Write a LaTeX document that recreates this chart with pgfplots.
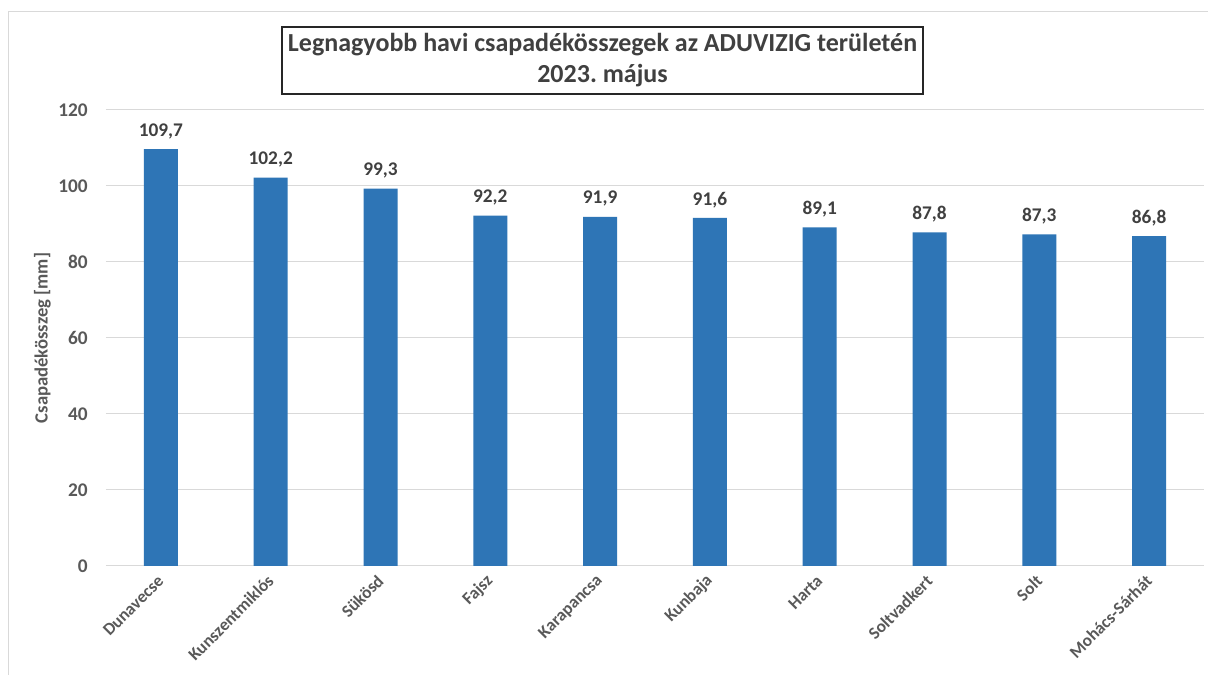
\documentclass[border=0pt]{standalone}
\usepackage{fontspec}
\setmainfont{Carlito}
\usepackage{pgfplots}
\pgfplotsset{compat=1.18}
\definecolor{barblue}{HTML}{2E75B6}
\definecolor{txt}{HTML}{595959}
\definecolor{ttl}{HTML}{404040}
\definecolor{grd}{HTML}{D9D9D9}
\frenchspacing
\begin{document}
\begin{tikzpicture}
  \useasboundingbox (0,0) rectangle (906pt,506.25pt);
  \fill[white] (0,0) rectangle (906pt,506.25pt);
  \draw[grd, line width=0.75pt] (6pt,-5pt) rectangle (912pt,497.25pt);
  \begin{axis}[
      at={(79.5pt,81.75pt)}, anchor=south west,
      scale only axis, width=823.5pt, height=342pt,
      ybar, bar width=25.5pt,
      ymin=0, ymax=120, ytick={0,20,...,120},
      xmin=-0.5, xmax=9.5, xtick=data,
      xticklabels={Dunavecse,Kunszentmiklós,Sükösd,Fajsz,Karapancsa,Kunbaja,Harta,Soltvadkert,Solt,Mohács-Sárhát},
      axis line style={draw=none},
      major tick length=0pt,
      ymajorgrids=true,
      grid style={grd, line width=0.75pt},
      /pgf/number format/assume math mode=true,
      yticklabel style={font=\fontsize{14.5}{16}\selectfont\bfseries, text=txt, inner sep=0pt, anchor=east, xshift=-13.5pt},
      xticklabel style={font=\fontsize{13}{14}\selectfont\bfseries, text=txt, inner sep=0pt, anchor=east, rotate=45},
      xticklabel shift=9pt,
      ylabel={Csapadékösszeg [mm]},
      ylabel style={font=\fontsize{14}{16}\selectfont\bfseries, text=txt, at={(axis description cs:-0.058,0.5)}, anchor=center, rotate=0},
      nodes near coords={\pgfmathprintnumber[fixed,fixed zerofill,precision=1,use comma,assume math mode=true]{\pgfplotspointmeta}},
      nodes near coords style={font=\fontsize{14.5}{16}\selectfont\bfseries, text=ttl, inner sep=0pt, anchor=south, yshift=7.5pt},
    ]
    \addplot[fill=barblue, draw=none] coordinates {
      (0,109.7) (1,102.2) (2,99.3) (3,92.2) (4,91.9)
      (5,91.6) (6,89.1) (7,87.8) (8,87.3) (9,86.8)
    };
  \end{axis}
  \node[draw=black!85, line width=1pt, minimum width=480.75pt, minimum height=50.25pt,
        inner sep=0pt, align=center, text=ttl, font=\fontsize{19.5}{23.25}\selectfont\bfseries]
    at (451.9pt,460.9pt) {Legnagyobb havi csapadékösszegek az ADUVIZIG területén\\2023. május};
\end{tikzpicture}
\end{document}
